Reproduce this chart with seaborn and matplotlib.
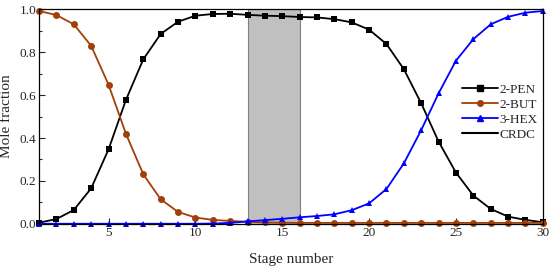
import pandas as pd
import matplotlib.pyplot as plt
import seaborn as sns
import numpy as np
from matplotlib.lines import Line2D

# Datos
etapas = list(range(1, 31))
pen = [0.006, 0.023, 0.065, 0.166, 0.347, 0.577, 0.766, 0.884, 0.941, 0.969,
       0.977, 0.978, 0.973, 0.969, 0.967, 0.963, 0.961, 0.953, 0.938, 0.904,
       0.837, 0.720, 0.561, 0.383, 0.239, 0.132, 0.070, 0.034, 0.019, 0.008]
but = [0.991, 0.972, 0.929, 0.829, 0.648, 0.420, 0.231, 0.115, 0.056, 0.030,
       0.019, 0.014, 0.010, 0.007, 0.006, 0.005, 0.005, 0.005, 0.005, 0.005,
       0.005, 0.005, 0.005, 0.005, 0.005, 0.005, 0.005, 0.005, 0.005, 0.005]
hex3 = [0.001, 0.001, 0.001, 0.001, 0.001, 0.001, 0.001, 0.001, 0.001, 0.001,
        0.002, 0.005, 0.012, 0.018, 0.024, 0.031, 0.037, 0.045, 0.064, 0.096,
        0.163, 0.282, 0.437, 0.608, 0.760, 0.860, 0.929, 0.964, 0.983, 0.991]
crdc = (13, 16)

df = pd.DataFrame({'etapa': etapas, '2-PEN': pen, '2-BUT': but, '3-HEX': hex3})
df = df.melt(id_vars='etapa', var_name='comp', value_name='x')

sns.set_style('white')
plt.rcParams['font.family'] = ['Liberation Serif', 'DejaVu Serif']

fig = plt.figure(figsize=(5.5, 2.66), dpi=100)
ax = fig.add_axes([0.071, 0.158, 0.916, 0.808])

ax.axvspan(crdc[0], crdc[1], facecolor='#c0c0c0', edgecolor='#808080', lw=0.8, zorder=0)

estilos = {'2-PEN': ('black', 's'), '2-BUT': ('#a0400a', 'o'), '3-HEX': ('#0000ff', '^')}
for comp, (col, mk) in estilos.items():
    sns.lineplot(data=df[df['comp'] == comp], x='etapa', y='x', color=col,
                 marker=mk, markersize=5, markeredgewidth=0, lw=1.3, ax=ax,
                 clip_on=False)

ax.set_xlim(1, 30)
ax.set_ylim(0, 1.0)
ax.set_xticks([5, 10, 15, 20, 25, 30])
ax.set_yticks(np.arange(0, 1.01, 0.2))
ax.set_yticks(np.arange(0.1, 1.0, 0.2), minor=True)
ax.yaxis.set_major_formatter(plt.FormatStrFormatter('%.1f'))
ax.tick_params(axis='both', which='major', direction='in', length=4, width=0.8,
               labelsize=9.5, left=True, bottom=True, pad=2)
ax.tick_params(axis='y', which='minor', direction='in', length=2.5, width=0.8, left=True)
for s in ax.spines.values():
    s.set_color('black')
    s.set_linewidth(0.9)

ax.set_xlabel('Stage number', fontsize=11, labelpad=10)
ax.set_ylabel('Mole fraction', fontsize=11, labelpad=5)

handles = [Line2D([], [], color='black', marker='s', markersize=4, lw=1.3),
           Line2D([], [], color='#a0400a', marker='o', markersize=4, lw=1.3),
           Line2D([], [], color='#0000ff', marker='^', markersize=4, lw=1.3),
           Line2D([], [], color='black', lw=1.5)]
ax.legend(handles, ['2-PEN', '2-BUT', '3-HEX', 'CRDC'], loc='center right',
          bbox_to_anchor=(1.0, 0.52), frameon=False, fontsize=9.5, handlelength=2.7,
          handletextpad=0.1, labelspacing=0.2, borderaxespad=0.0)

plt.savefig('out.png', dpi=100)
